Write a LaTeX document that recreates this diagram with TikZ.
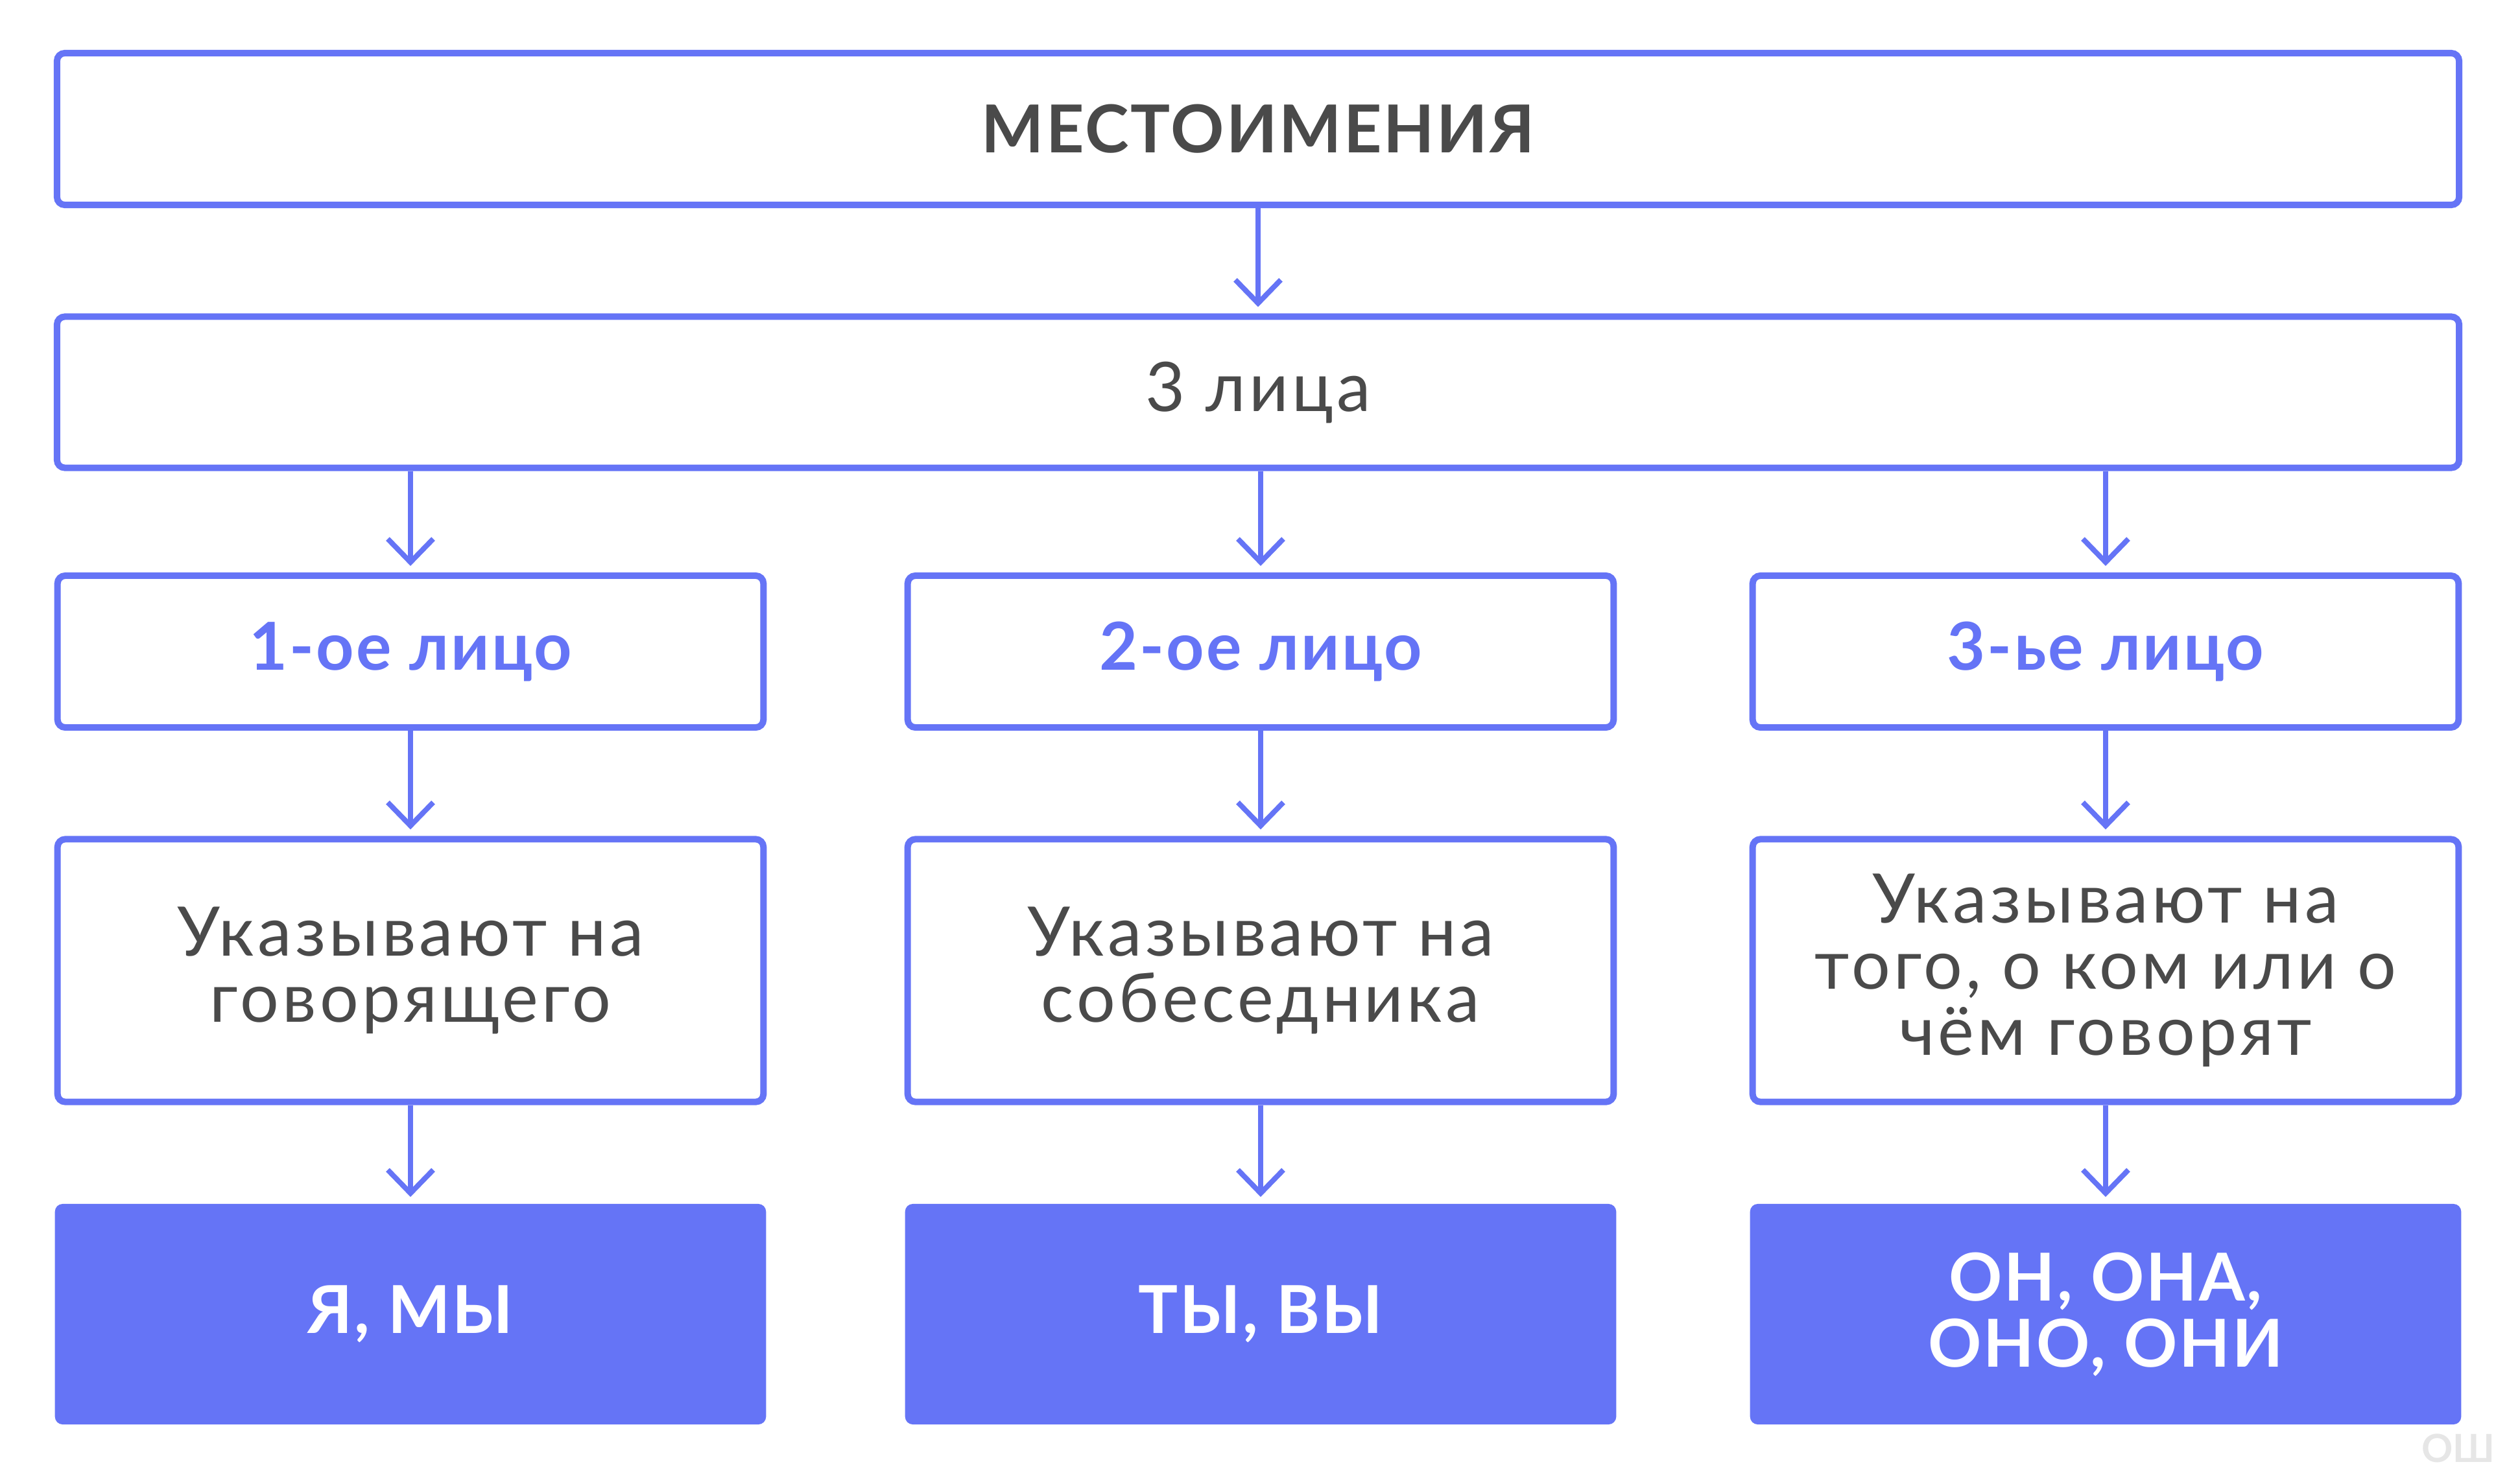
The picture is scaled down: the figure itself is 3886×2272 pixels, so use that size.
\documentclass[tikz,border=0pt]{standalone}
\usepackage{fontspec}
\setmainfont{Lato}
\usetikzlibrary{arrows.meta}
\definecolor{blu}{HTML}{6574F6}
\definecolor{txt}{HTML}{4A4A4A}
\definecolor{mark}{HTML}{E6E6E6}
\tikzset{box/.style={draw=blu, line width=0.1cm, rounded corners=0.12cm, inner sep=0pt, align=center,
		text=txt, font=\fontsize{30}{29}\selectfont\addfontfeatures{LetterSpace=5}},
	heavy/.style={font=\fontsize{29}{29}\selectfont\bfseries\addfontfeatures{LetterSpace=3}},
	wide/.style={box, minimum width=37.02cm, minimum height=#1},
	col/.style={box, minimum width=10.88cm, minimum height=#1},
	res/.style={fill=blu, rounded corners=0.12cm, minimum width=10.96cm, minimum height=3.40cm, inner sep=0pt,
		align=center, text=white, heavy},
	arr/.style={draw=blu, line width=0.08cm, shorten >=0.1cm, -{Straight Barb[length=0.36cm, width=0.7cm]}}}

\begin{document}
\begin{tikzpicture}[x=0.01cm, y=-0.01cm]
		\useasboundingbox (0,0) rectangle (3886,2272); %page size
		\node[wide=2.34cm, heavy] (top) at (1940,199) {МЕСТОИМЕНИЯ};
		\node[wide=2.33cm] (lica) at (1940,605) {3 лица};
		%three persons
		\node[col=2.34cm, text=blu, heavy] (p1) at (633,1005) {1-ое лицо};
		\node[col=2.34cm, text=blu, heavy] (p2) at (1944,1005) {2-ое лицо};
		\node[col=2.34cm, text=blu, heavy] (p3) at (3247,1005) {3-ье лицо};
		%what they point to
		\node[col=4.05cm] (d1) at (633,1497) {Указывают на\\говорящего};
		\node[col=4.05cm] (d2) at (1944,1497) {Указывают на\\собеседника};
		\node[col=4.05cm] (d3) at (3247,1497) {Указывают на\\того, о ком или о\\чём говорят};
		%the pronouns
		\node[res] (r1) at (633,2027) {Я, МЫ};
		\node[res] (r2) at (1944,2027) {ТЫ, ВЫ};
		\node[res] (r3) at (3247,2027) {ОН, ОНА,\\ОНО, ОНИ};
		\node[text=mark, font=\fontsize{17}{17}\selectfont\bfseries] (ow) at (3791,2234) {ОШ}; %watermark
		%connectors
		\draw[arr] (top.south) -- (lica.north);
		\foreach \n in {1,2,3}
		{
			\draw[arr] (lica.south -| p\n.north) -- (p\n.north);
			\draw[arr] (p\n.south) -- (d\n.north);
			\draw[arr] (d\n.south) -- (r\n.north);
		}
	\end{tikzpicture}
\end{document}
